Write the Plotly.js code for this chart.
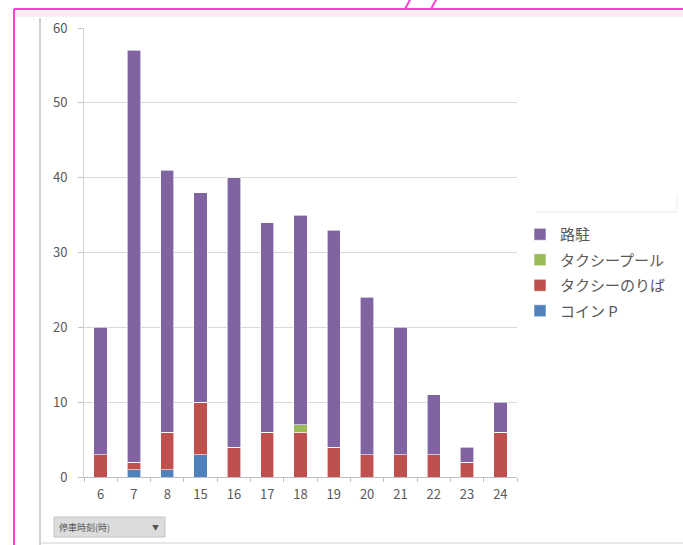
<!DOCTYPE html>
<html>
<head>
<meta charset="utf-8">
<script src="https://cdn.plot.ly/plotly-3.0.1.min.js"></script>
<style>
  html, body { margin: 0; padding: 0; background: #ffffff; }
  #chart { width: 683px; height: 545px; }
</style>
</head>
<body>
<div id="chart"></div>
<script>
// Categories (hour of parking)
const hours = ['6', '7', '8', '15', '16', '17', '18', '19', '20', '21', '22', '23', '24'];
// Series values (stacked)
const coinP      = [0, 1, 1, 3, 0, 0, 0, 0, 0, 0, 0, 0, 0];
const taxiStand  = [3, 1, 5, 7, 4, 6, 6, 4, 3, 3, 3, 2, 6];
const taxiPool   = [0, 0, 0, 0, 0, 0, 1, 0, 0, 0, 0, 0, 0];
const streetPark = [17, 55, 35, 28, 36, 28, 28, 29, 21, 17, 8, 2, 4];
// Names
const names = ['コイン P', 'タクシーのりば', 'タクシープール', '路駐'];
const colors = ['#4F81BD', '#C0504D', '#9BBB59', '#8064A2'];
const filterLabel = '停車時刻(時)';

const series = [coinP, taxiStand, taxiPool, streetPark];
const traces = series.map((vals, i) => ({
  type: 'bar',
  x: hours,
  y: vals,
  name: names[i],
  legendgroup: 'g' + i,
  legendrank: 10 - i,
  marker: { color: colors[i], line: { color: '#ffffff', width: 0.6 } },
  hoverinfo: 'x+y+name'
}));

// plot area in pixels
const L = 84, R = 517, T = 28, B = 477;
const px = x => (x - L) / (R - L);
const py = y => (B - y) / (B - T);

const shapes = [
  // pink frame
  { type: 'line', xref: 'paper', yref: 'paper', x0: px(14), x1: px(690), y0: py(9), y1: py(9), line: { color: '#FF44CC', width: 2 } },
  { type: 'line', xref: 'paper', yref: 'paper', x0: px(14), x1: px(14), y0: py(9), y1: py(550), line: { color: '#FF44CC', width: 2 } },
  { type: 'line', xref: 'paper', yref: 'paper', x0: px(405), x1: px(411), y0: py(9), y1: py(-2), line: { color: '#FF44CC', width: 2 } },
  { type: 'line', xref: 'paper', yref: 'paper', x0: px(431), x1: px(437), y0: py(9), y1: py(-2), line: { color: '#FF44CC', width: 2 } },
  // light strip below frame
  { type: 'rect', xref: 'paper', yref: 'paper', x0: px(15), x1: px(690), y0: py(10), y1: py(17), fillcolor: '#f2f2f2', line: { width: 0 }, layer: 'below' },
  // gray vertical line (sheet border)
  { type: 'line', xref: 'paper', yref: 'paper', x0: px(40), x1: px(40), y0: py(18), y1: py(550), line: { color: '#c0c0c0', width: 1.5 } },
  // bottom gray line
  { type: 'line', xref: 'paper', yref: 'paper', x0: px(40), x1: px(690), y0: py(543), y1: py(543), line: { color: '#d0d0d0', width: 1 } },
  // faint line above legend
  { type: 'line', xref: 'paper', yref: 'paper', x0: px(537), x1: px(677), y0: py(212), y1: py(212), line: { color: '#e6e6e6', width: 1 } },
  { type: 'line', xref: 'paper', yref: 'paper', x0: px(677), x1: px(677), y0: py(195), y1: py(212), line: { color: '#eeeeee', width: 1 } },
  // filter button
  { type: 'rect', xref: 'paper', yref: 'paper', x0: px(54), x1: px(165), y0: py(517), y1: py(537), fillcolor: '#dcdcdc', line: { color: '#c4c4c4', width: 1 } }
];

const layout = {
  width: 683, height: 545,
  margin: { l: L, r: 683 - R, t: T, b: 545 - B, autoexpand: false },
  paper_bgcolor: '#ffffff',
  plot_bgcolor: '#ffffff',
  barmode: 'stack',
  bargap: 0.6,
  font: { family: 'Noto Sans CJK JP, Noto Sans, sans-serif', color: '#595959', size: 12 },
  xaxis: {
    type: 'category',
    showgrid: false,
    showline: true, linecolor: '#bfbfbf', linewidth: 1,
    ticks: 'outside', tickson: 'boundaries', ticklen: 4, tickcolor: '#bfbfbf',
    ticklabelstandoff: 5,
    tickfont: { size: 13, color: '#595959' },
    fixedrange: true
  },
  yaxis: {
    range: [0, 60], dtick: 10,
    showgrid: true, gridcolor: '#d9d9d9', gridwidth: 1,
    showline: true, linecolor: '#d0d0d0',
    ticks: 'outside', ticklen: 5, tickcolor: '#bfbfbf',
    ticklabelstandoff: 8,
    tickfont: { size: 13, color: '#595959' },
    zeroline: false,
    fixedrange: true
  },
  legend: {
    x: px(520), y: py(218), xanchor: 'left', yanchor: 'top',
    traceorder: 'grouped',
    tracegroupgap: 3,
    itemwidth: 30,
    font: { size: 15, color: '#595959' },
    bgcolor: 'rgba(0,0,0,0)'
  },
  shapes: shapes,
  annotations: [
    { xref: 'paper', yref: 'paper', x: px(57), y: py(527), xanchor: 'left', yanchor: 'middle', text: filterLabel, showarrow: false, font: { size: 9, color: '#555555' } },
    { xref: 'paper', yref: 'paper', x: px(155), y: py(527), xanchor: 'center', yanchor: 'middle', text: '▼', showarrow: false, font: { size: 7, color: '#555555' } }
  ]
};

Plotly.newPlot('chart', traces, layout, { displayModeBar: false, staticPlot: true });
</script>
</body>
</html>
